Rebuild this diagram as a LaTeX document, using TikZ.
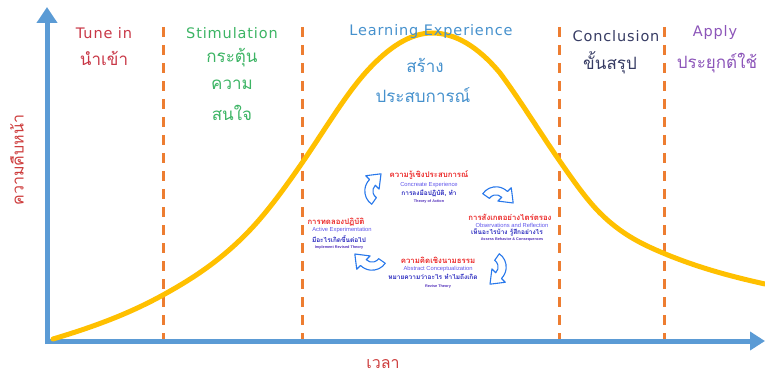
\documentclass[tikz,border=0pt]{standalone}
\usepackage{fontspec}
\setmainfont{Liberation Sans}
\newfontfamily\thai[Script=Thai]{Loma}
\newfontfamily\headfont[LetterSpace=6]{DejaVu Sans}
\usetikzlibrary{arrows.meta,calc}
\definecolor{tunered}{RGB}{200,55,70}
\definecolor{stimgreen}{RGB}{60,180,100}
\definecolor{learnblue}{RGB}{70,145,205}
\definecolor{concnavy}{RGB}{55,60,100}
\definecolor{applypurple}{RGB}{140,85,185}
\definecolor{axisred}{RGB}{205,60,60}
\definecolor{axisblue}{RGB}{91,155,213}
\definecolor{dashorange}{RGB}{237,125,49}
\definecolor{curveyellow}{RGB}{255,192,0}
\definecolor{cycred}{RGB}{235,40,40}
\definecolor{cycblue}{RGB}{95,85,235}
\definecolor{cycdark}{RGB}{40,40,190}
\definecolor{cycviolet}{RGB}{80,45,185}
\definecolor{cycarrow}{RGB}{40,120,235}
\newcommand{\cycarr}[3]{%
 \begin{scope}[shift={(#1,#2)}, rotate=#3, yscale=-1, scale=1.35]
  \draw[cycshape] (200:12) arc[start angle=200, end angle=100, radius=12]
     -- (100:16) -- ($(100:9)+(10:9)$) -- (100:2) -- (100:6)
     arc[start angle=100, end angle=200, radius=6] -- cycle;
 \end{scope}}
\begin{document}
\begin{tikzpicture}[x=1pt,y=-1pt,
  head/.style={font=\headfont\fontsize{14.5}{14.5}\selectfont, inner sep=0},
  thbig/.style={font=\thai\fontsize{17}{17}\selectfont, inner sep=0},
  divider/.style={draw=dashorange, line width=3pt, dash pattern=on 10pt off 8pt},
  axisline/.style={draw=axisblue, line width=5pt},
  cycshape/.style={draw=cycarrow, line width=1.1pt, fill=white, line join=round},
  cr/.style={font=\thai\bfseries\fontsize{7.8}{7.8}\selectfont, text=cycred, inner sep=0},
  ce/.style={font=\fontsize{5.8}{5.8}\selectfont, text=cycblue, inner sep=0},
  ct/.style={font=\thai\bfseries\fontsize{6.5}{6.5}\selectfont, text=cycdark, inner sep=0},
  cs/.style={font=\bfseries\fontsize{3.8}{3.8}\selectfont, text=cycviolet, inner sep=0}]
\useasboundingbox (0,0) rectangle (765,374);
% dividers
\coordinate (d1t) at (163,27); \coordinate (d1b) at (163,340);
\coordinate (d2t) at (302,27); \coordinate (d2b) at (302,340);
\coordinate (d3t) at (559,27); \coordinate (d3b) at (559,340);
\coordinate (d4t) at (664,27); \coordinate (d4b) at (664,340);
\draw[divider] (d1t) -- (d1b);
\draw[divider] (d2t) -- (d2b);
\draw[divider] (d3t) -- (d3b);
\draw[divider] (d4t) -- (d4b);
% axes
\coordinate (o1) at (47,344); \coordinate (ytop) at (47,7);
\coordinate (o2) at (45,341); \coordinate (xend) at (765,341);
\draw[axisline, -{Triangle[width=20pt,length=16pt]}] (o1) -- (ytop);
\draw[axisline, -{Triangle[width=18pt,length=15pt]}] (o2) -- (xend);
% curve
\draw[curveyellow, line width=5pt, line cap=round]
  (53,339) .. controls (89.7,328) and (126.3,315.2) .. (163,295)
  .. controls (192,279) and (221,260.5) .. (250,230)
  .. controls (267.3,211.8) and (284.7,188.1) .. (302,163)
  .. controls (323.7,131.6) and (345.3,94.8) .. (367,71)
  .. controls (388.7,47.2) and (410.3,33) .. (432,33)
  .. controls (454.7,33) and (477.3,45.8) .. (500,73)
  .. controls (519.7,99.6) and (539.3,131.5) .. (559,160)
  .. controls (572.7,179.8) and (586.3,199.3) .. (600,213)
  .. controls (621,234) and (642,244.2) .. (663,253)
  .. controls (697,267.3) and (731,276.5) .. (765,284);
% headings
\node[head, text=tunered] (h1) at (104,33) {Tune in};
\node[thbig, text=tunered] (t1) at (104,58) {นำเข้า};
\node[head, text=stimgreen] (h2) at (232,33) {Stimulation};
\node[thbig, text=stimgreen] (t2a) at (232,58) {กระตุ้น};
\node[thbig, text=stimgreen] (t2b) at (232,85) {ความ};
\node[thbig, text=stimgreen] (t2c) at (232,113) {สนใจ};
\node[head, text=learnblue] (h3) at (431,32) {Learning Experience};
\node[thbig, text=learnblue] (t3a) at (425,65) {สร้าง};
\node[thbig, text=learnblue] (t3b) at (423,95) {ประสบการณ์};
\node[head, text=concnavy] (h4) at (616,36) {Conclusion};
\node[thbig, text=concnavy] (t4) at (610,63) {ขั้นสรุป};
\node[head, text=applypurple] (h5) at (715,33) {Apply};
\node[thbig, text=applypurple] (t5) at (717,63) {ประยุกต์ใช้};
% axis labels
\node[font=\thai\fontsize{16}{16}\selectfont, text=axisred, rotate=90, inner sep=0] (ylab) at (17,160) {ความคืบหน้า};
\node[font=\thai\fontsize{16}{16}\selectfont, text=axisred, inner sep=0] (xlab) at (383,364) {เวลา};
% cycle arrows
\cycarr{381}{191}{35}
\cycarr{496}{203}{-55}
\cycarr{490}{267}{-145}
\cycarr{372}{254}{125}
% cycle texts: top
\node[cr] (a1) at (429,175) {ความรู้เชิงประสบการณ์};
\node[ce] (a2) at (429,185) {Concreate Experience};
\node[ct] (a3) at (429,193) {การลงมือปฏิบัติ, ทำ};
\node[cs] (a4) at (429,202) {Theory of Action};
% right
\node[cr] (b1) at (510,217) {การสังเกตอย่างไตร่ตรอง};
\node[ce] (b2) at (512,225.5) {Observations and Reflection};
\node[ct] (b3) at (507,232.5) {เห็นอะไรบ้าง รู้สึกอย่างไร};
\node[cs] (b4) at (512,240) {Assess Behavior \& Consequences};
% bottom
\node[cr] (c1) at (438,260) {ความคิดเชิงนามธรรม};
\node[ce] (c2) at (438,269) {Abstract Conceptualization};
\node[ct] (c3) at (433,277) {หมายความว่าอะไร ทำไมถึงเกิด};
\node[cs] (c4) at (438,287) {Revise Theory};
% left
\node[cr] (e1) at (336,222) {การทดลองปฏิบัติ};
\node[ce] (e2) at (342,230) {Active Experimentation};
\node[ct] (e3) at (339,239.5) {มีอะไรเกิดขึ้นต่อไป};
\node[cs] (e4) at (339,248) {Implement Revised Theory};
\end{tikzpicture}
\end{document}
